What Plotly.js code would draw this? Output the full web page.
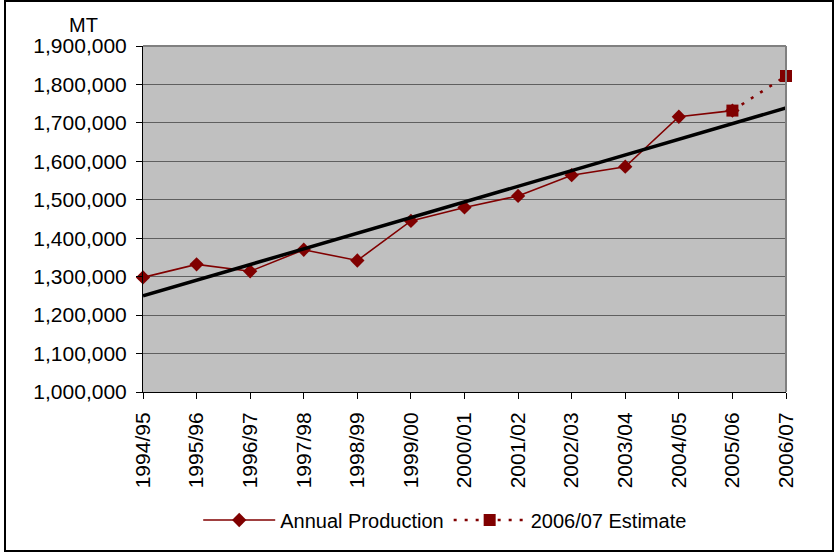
<!DOCTYPE html>
<html>
<head>
<meta charset="utf-8">
<script src="https://cdn.plot.ly/plotly-3.0.1.min.js"></script>
<style>
  html, body { margin: 0; padding: 0; background: #fff; }
  #wrap { position: relative; width: 834px; height: 552px; }
  #chart { width: 834px; height: 552px; }
  #frame {
    position: absolute; left: 4px; top: 0; width: 830px; height: 552px;
    box-sizing: border-box; border: 2px solid #000; pointer-events: none;
  }
</style>
</head>
<body>
<div id="wrap">
  <div id="chart"></div>
  <div id="frame"></div>
</div>
<script>
// Marketing years shown along the x axis
const seasons = ['1994/95', '1995/96', '1996/97', '1997/98', '1998/99', '1999/00',
                 '2000/01', '2001/02', '2002/03', '2003/04', '2004/05', '2005/06', '2006/07'];

// Annual production, metric tonnes (1994/95 .. 2005/06)
const annualProduction = [1298000, 1332000, 1314000, 1370000, 1342000, 1445000,
                          1480000, 1510000, 1564000, 1586000, 1716000, 1732000];

// Estimate for the new season, joined to the last actual year
const estimateSeasons = ['2005/06', '2006/07'];
const estimateValues = [1732000, 1822000];

// Least-squares linear trend of the actual years, extended over every season
function linearTrend(values, count) {
  const n = values.length;
  let sx = 0, sy = 0, sxx = 0, sxy = 0;
  values.forEach((v, i) => { sx += i; sy += v; sxx += i * i; sxy += i * v; });
  const slope = (n * sxy - sx * sy) / (n * sxx - sx * sx);
  const intercept = (sy - slope * sx) / n;
  return Array.from({ length: count }, (_, i) => intercept + slope * i);
}
const trendValues = linearTrend(annualProduction, seasons.length);

const RED = '#800000';
const FONT = 'Liberation Sans, Arial, Helvetica, sans-serif';

const traces = [
  {
    name: 'Annual Production',
    x: seasons.slice(0, annualProduction.length),
    y: annualProduction,
    type: 'scatter',
    mode: 'lines+markers',
    cliponaxis: false,
    line: { color: RED, width: 1.6 },
    marker: { symbol: 'diamond', size: 11, color: RED }
  },
  {
    name: '2006/07 Estimate',
    x: estimateSeasons,
    y: estimateValues,
    type: 'scatter',
    mode: 'lines+markers',
    cliponaxis: false,
    line: { color: RED, width: 2.6, dash: '3px,8px' },
    marker: { symbol: 'square', size: 12, color: RED }
  },
  {
    name: 'Trend',
    x: seasons,
    y: trendValues,
    type: 'scatter',
    mode: 'lines',
    line: { color: '#000', width: 3.5 },
    showlegend: false,
    hoverinfo: 'skip'
  }
];

const layout = {
  width: 834,
  height: 552,
  margin: { l: 143, r: 48, t: 46, b: 160 },
  paper_bgcolor: '#fff',
  plot_bgcolor: '#C0C0C0',
  font: { family: FONT, size: 20, color: '#000' },
  showlegend: true,
  legend: {
    orientation: 'h',
    x: 0.47, xanchor: 'center',
    y: -0.37, yanchor: 'middle',
    font: { family: FONT, size: 20, color: '#000' },
    itemwidth: 72,
    bgcolor: 'rgba(0,0,0,0)'
  },
  xaxis: {
    type: 'category',
    categoryorder: 'array',
    categoryarray: seasons,
    range: [0, seasons.length - 1],
    tickangle: -90,
    ticks: 'outside',
    ticklen: 6,
    tickcolor: '#000',
    ticklabelstandoff: 5,
    showline: true,
    linecolor: '#000',
    linewidth: 1,
    showgrid: false,
    zeroline: false,
    tickfont: { family: FONT, size: 21, color: '#000' },
    fixedrange: true
  },
  yaxis: {
    range: [1000000, 1900000],
    dtick: 100000,
    tick0: 1000000,
    tickformat: ',d',
    ticks: 'outside',
    ticklen: 6,
    tickcolor: '#000',
    ticklabelstandoff: 5,
    showline: true,
    linecolor: '#000',
    linewidth: 1,
    showgrid: true,
    gridcolor: '#5f5f5f',
    gridwidth: 1,
    zeroline: false,
    tickfont: { family: FONT, size: 21, color: '#000' },
    fixedrange: true
  },
  shapes: [
    // grey border along the top and right of the plotting area
    { type: 'line', xref: 'paper', yref: 'paper', x0: 0, x1: 1, y0: 1, y1: 1,
      line: { color: '#808080', width: 2 } },
    { type: 'line', xref: 'paper', yref: 'paper', x0: 1, x1: 1, y0: 0, y1: 1,
      line: { color: '#808080', width: 2 } }
  ],
  annotations: [
    { text: 'MT', xref: 'paper', yref: 'paper', x: -0.092, y: 1.097,
      xanchor: 'center', yanchor: 'top', showarrow: false,
      font: { family: FONT, size: 20, color: '#000' } }
  ]
};

Plotly.newPlot('chart', traces, layout, { displayModeBar: false, staticPlot: true });
</script>
</body>
</html>
